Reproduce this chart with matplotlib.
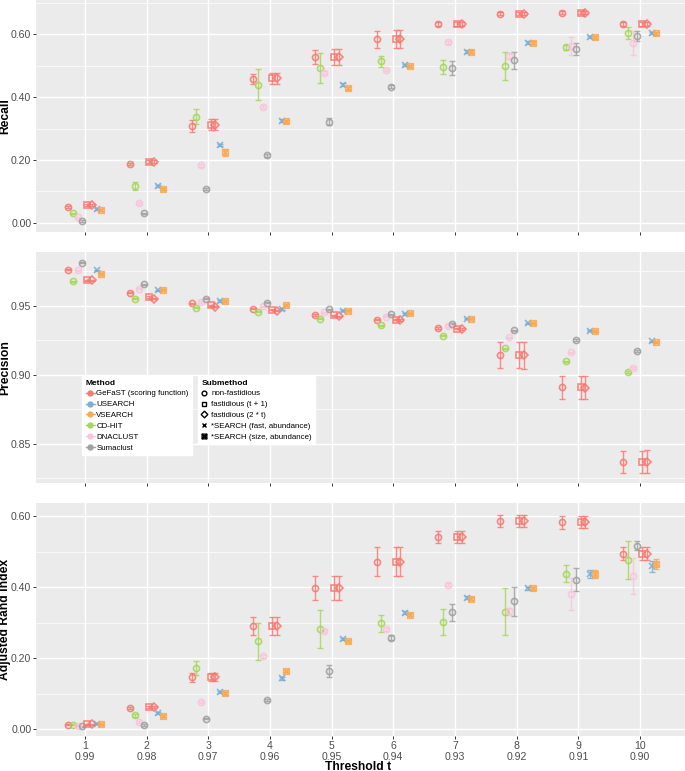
import matplotlib
matplotlib.use('Agg')
import matplotlib.pyplot as plt
import numpy as np
from matplotlib.lines import Line2D
from matplotlib.path import Path

plt.rcParams['font.family'] = ['Liberation Sans', 'DejaVu Sans']

# x axis: threshold t and the matching similarity labels
thresholds = [1, 2, 3, 4, 5, 6, 7, 8, 9, 10]
similarities = ['0.99', '0.98', '0.97', '0.96', '0.95', '0.94', '0.93', '0.92', '0.91', '0.90']

methods = ['GeFaST (scoring function)', 'USEARCH', 'VSEARCH', 'CD-HIT', 'DNACLUST', 'Sumaclust']
method_colors = ['#F8766D', '#74ADD8', '#FBA74C', '#A3D653', '#FAC3DA', '#9E9E9E']
submethods = ['non-fastidious', 'fastidious (t + 1)', 'fastidious (2 * t)',
              '*SEARCH (fast, abundance)', '*SEARCH (size, abundance)']

# series drawn per threshold, in dodge order: (method, submethod)
series = [
    ('GeFaST (scoring function)', 'non-fastidious'),
    ('CD-HIT', 'non-fastidious'),
    ('DNACLUST', 'non-fastidious'),
    ('Sumaclust', 'non-fastidious'),
    ('GeFaST (scoring function)', 'fastidious (t + 1)'),
    ('GeFaST (scoring function)', 'fastidious (2 * t)'),
    ('USEARCH', '*SEARCH (fast, abundance)'),
    ('VSEARCH', '*SEARCH (size, abundance)'),
]

# Recall (mean, error) per series, same order as `series`
recall = [
    [0.050, 0.188, 0.308, 0.458, 0.527, 0.584, 0.632, 0.666, 0.669, 0.632],
    [0.030, 0.117, 0.338, 0.440, 0.492, 0.514, 0.497, 0.500, 0.558, 0.604],
    [0.018, 0.063, 0.183, 0.370, 0.478, 0.487, 0.574, 0.530, 0.563, 0.572],
    [0.006, 0.031, 0.108, 0.215, 0.322, 0.433, 0.492, 0.517, 0.553, 0.594],
    [0.057, 0.195, 0.312, 0.460, 0.528, 0.584, 0.632, 0.666, 0.669, 0.632],
    [0.057, 0.195, 0.312, 0.460, 0.528, 0.584, 0.632, 0.666, 0.669, 0.632],
    [0.045, 0.117, 0.247, 0.325, 0.440, 0.502, 0.545, 0.573, 0.592, 0.604],
    [0.041, 0.108, 0.224, 0.323, 0.428, 0.499, 0.545, 0.573, 0.590, 0.603],
]
recall_err = [
    [0.003, 0.004, 0.018, 0.015, 0.022, 0.027, 0.006, 0.005, 0.005, 0.006],
    [0.003, 0.013, 0.025, 0.048, 0.048, 0.018, 0.022, 0.045, 0.008, 0.020],
    [0.002, 0.003, 0.004, 0.004, 0.004, 0.004, 0.004, 0.010, 0.028, 0.037],
    [0.002, 0.002, 0.003, 0.004, 0.012, 0.005, 0.022, 0.028, 0.018, 0.016],
    [0.003, 0.004, 0.018, 0.017, 0.025, 0.028, 0.006, 0.005, 0.005, 0.006],
    [0.003, 0.004, 0.018, 0.017, 0.025, 0.028, 0.006, 0.005, 0.005, 0.006],
    [0.003, 0.004, 0.004, 0.004, 0.004, 0.004, 0.004, 0.004, 0.004, 0.004],
    [0.003, 0.004, 0.012, 0.004, 0.004, 0.004, 0.004, 0.004, 0.004, 0.004],
]

precision = [
    [0.9763, 0.9597, 0.9519, 0.9481, 0.9435, 0.9401, 0.9338, 0.9143, 0.8910, 0.8372],
    [0.9679, 0.9553, 0.9488, 0.9457, 0.9408, 0.9361, 0.9285, 0.9193, 0.9099, 0.9022],
    [0.9760, 0.9626, 0.9529, 0.9498, 0.9454, 0.9422, 0.9355, 0.9273, 0.9164, 0.9051],
    [0.9814, 0.9657, 0.9553, 0.9522, 0.9476, 0.9441, 0.9372, 0.9324, 0.9254, 0.9174],
    [0.9686, 0.9565, 0.9505, 0.9473, 0.9432, 0.9401, 0.9336, 0.9143, 0.8910, 0.8372],
    [0.9686, 0.9553, 0.9495, 0.9466, 0.9425, 0.9396, 0.9334, 0.9141, 0.8908, 0.8372],
    [0.9758, 0.9614, 0.9536, 0.9478, 0.9464, 0.9442, 0.9406, 0.9374, 0.9319, 0.9244],
    [0.9734, 0.9618, 0.9536, 0.9507, 0.9466, 0.9447, 0.9409, 0.9374, 0.9317, 0.9237],
]
precision_err = [
    [0.0005, 0.0005, 0.0005, 0.0005, 0.0005, 0.0006, 0.0006, 0.0093, 0.0082, 0.0080],
    [0.0004, 0.0004, 0.0004, 0.0004, 0.0004, 0.0004, 0.0004, 0.0005, 0.0005, 0.0005],
    [0.0004, 0.0004, 0.0004, 0.0004, 0.0004, 0.0004, 0.0004, 0.0005, 0.0005, 0.0005],
    [0.0004, 0.0004, 0.0004, 0.0004, 0.0004, 0.0004, 0.0004, 0.0005, 0.0005, 0.0005],
    [0.0005, 0.0005, 0.0005, 0.0005, 0.0005, 0.0006, 0.0006, 0.0095, 0.0082, 0.0080],
    [0.0005, 0.0005, 0.0005, 0.0005, 0.0005, 0.0006, 0.0006, 0.0095, 0.0084, 0.0082],
    [0.0004, 0.0004, 0.0004, 0.0004, 0.0004, 0.0004, 0.0004, 0.0004, 0.0004, 0.0004],
    [0.0004, 0.0004, 0.0004, 0.0004, 0.0004, 0.0004, 0.0004, 0.0004, 0.0004, 0.0004],
]

ari = [
    [0.013, 0.060, 0.146, 0.290, 0.397, 0.471, 0.541, 0.587, 0.582, 0.494],
    [0.013, 0.040, 0.172, 0.248, 0.283, 0.298, 0.302, 0.331, 0.438, 0.476],
    [0.010, 0.020, 0.076, 0.205, 0.277, 0.281, 0.407, 0.332, 0.382, 0.432],
    [0.008, 0.012, 0.030, 0.082, 0.164, 0.257, 0.329, 0.360, 0.421, 0.517],
    [0.014, 0.062, 0.147, 0.291, 0.397, 0.471, 0.541, 0.587, 0.582, 0.494],
    [0.014, 0.062, 0.147, 0.291, 0.397, 0.471, 0.541, 0.587, 0.582, 0.494],
    [0.016, 0.045, 0.105, 0.143, 0.255, 0.328, 0.370, 0.397, 0.437, 0.458],
    [0.014, 0.038, 0.101, 0.163, 0.248, 0.322, 0.367, 0.397, 0.437, 0.465],
]
ari_err = [
    [0.002, 0.003, 0.012, 0.025, 0.034, 0.041, 0.016, 0.017, 0.018, 0.019],
    [0.002, 0.004, 0.020, 0.052, 0.053, 0.023, 0.037, 0.066, 0.024, 0.054],
    [0.001, 0.002, 0.003, 0.003, 0.003, 0.005, 0.005, 0.010, 0.045, 0.050],
    [0.001, 0.002, 0.002, 0.002, 0.016, 0.007, 0.023, 0.040, 0.032, 0.012],
    [0.002, 0.003, 0.012, 0.026, 0.034, 0.041, 0.017, 0.017, 0.017, 0.018],
    [0.002, 0.003, 0.012, 0.026, 0.034, 0.041, 0.017, 0.017, 0.017, 0.018],
    [0.002, 0.003, 0.003, 0.003, 0.003, 0.004, 0.004, 0.004, 0.011, 0.015],
    [0.002, 0.003, 0.005, 0.003, 0.003, 0.004, 0.004, 0.004, 0.012, 0.013],
]

# boxed x (ggplot shape 7)
boxed_x = Path(
    [(-1, -1), (1, -1), (1, 1), (-1, 1), (-1, -1), (-1, -1), (1, 1), (-1, 1), (1, -1)],
    [Path.MOVETO, Path.LINETO, Path.LINETO, Path.LINETO, Path.CLOSEPOLY,
     Path.MOVETO, Path.LINETO, Path.MOVETO, Path.LINETO])
submethod_markers = {
    'non-fastidious': 'o',
    'fastidious (t + 1)': 's',
    'fastidious (2 * t)': 'D',
    '*SEARCH (fast, abundance)': 'x',
    '*SEARCH (size, abundance)': boxed_x,
}
marker_sizes = {'o': 4.4, 's': 4.1, 'D': 3.7, 'x': 4.0}
dodge = np.linspace(-0.27, 0.265, len(series))

W, H = 685, 771
fig = plt.figure(figsize=(W / 100, H / 100), dpi=100)


def px_axes(top, bottom, left=36, right=685):
    return fig.add_axes([left / W, 1 - bottom / H, (right - left) / W, (bottom - top) / H])


def style_axes(ax, ylim, major, minor, show_x):
    ax.set_facecolor('#EBEBEB')
    for sp in ax.spines.values():
        sp.set_visible(False)
    ax.set_xlim(0.206, 10.73)
    ax.set_ylim(*ylim)
    ax.set_yticks(major)
    ax.set_yticklabels([f'{v:.2f}' for v in major])
    ax.set_yticks(minor, minor=True)
    ax.set_xticks(thresholds)
    if show_x:
        ax.set_xticklabels([f'{t}\n{s}' for t, s in zip(thresholds, similarities)],
                           linespacing=1.2)
    else:
        ax.set_xticklabels([])
    ax.grid(True, which='major', color='white', lw=1.05, zorder=0)
    ax.grid(True, which='minor', axis='y', color='white', lw=0.5, zorder=0)
    ax.set_axisbelow(True)
    ax.tick_params(which='major', length=2.2, width=0.7, color='#333333',
                   labelsize=7.6, labelcolor='#4D4D4D', pad=1.2)
    ax.tick_params(which='minor', length=0)


def draw(ax, values, errors):
    for i, (method, sub) in enumerate(series):
        color = method_colors[methods.index(method)]
        x = np.array(thresholds) + dodge[i]
        ax.errorbar(x, values[i], yerr=errors[i], fmt='none', ecolor=color, alpha=0.8,
                    elinewidth=1.0, capsize=1.9, capthick=1.0, zorder=2)
        mk = submethod_markers[sub]
        ms = marker_sizes.get(mk, 4.0) if isinstance(mk, str) else 4.0
        ax.plot(x, values[i], ls='none', marker=mk, ms=ms, mfc='none', mec=color,
                mew=1.2, alpha=0.85, zorder=3)


ax_rec = px_axes(0, 232)
style_axes(ax_rec, (-0.029, 0.709), [0.0, 0.2, 0.4, 0.6], [0.1, 0.3, 0.5, 0.7], False)
draw(ax_rec, recall, recall_err)

ax_pre = px_axes(252, 483)
style_axes(ax_pre, (0.8217, 0.9891), [0.85, 0.90, 0.95], [0.825, 0.875, 0.925, 0.975], False)
draw(ax_pre, precision, precision_err)

ax_ari = px_axes(503, 736)
style_axes(ax_ari, (-0.0188, 0.6366), [0.0, 0.2, 0.4, 0.6], [0.1, 0.3, 0.5], True)
draw(ax_ari, ari, ari_err)

for ax, label in [(ax_rec, 'Recall'), (ax_pre, 'Precision'), (ax_ari, 'Adjusted Rand index')]:
    pos = ax.get_position()
    fig.text(5.5 / W, pos.y0 + pos.height / 2, label, rotation=90, ha='center', va='center',
             fontsize=8.7, fontweight='bold')
fig.text(358 / W, 1 - 766.5 / H, 'Threshold t', ha='center', va='center',
         fontsize=8.7, fontweight='bold')

# legends
legend_kw = dict(loc='upper left', bbox_transform=fig.transFigure, fontsize=5.7,
                 title_fontproperties={'weight': 'bold', 'size': 6.0},
                 alignment='left', frameon=True, fancybox=False, framealpha=1,
                 facecolor='white', edgecolor='white', borderpad=0.45,
                 labelspacing=0.42, borderaxespad=0)
method_handles = [Line2D([0], [0], color=c, marker='o', ms=3.6, lw=1.0, alpha=0.9)
                  for c in method_colors]
leg1 = ax_pre.legend(method_handles, methods, title='Method',
                     bbox_to_anchor=(82 / W, 1 - 376 / H),
                     handlelength=1.2, handletextpad=0.15, **legend_kw)
ax_pre.add_artist(leg1)
sub_handles = [Line2D([0], [0], ls='none', marker=submethod_markers[s], ms=3.4,
                      mfc='none', mec='black', mew=1.0) for s in submethods]
ax_pre.legend(sub_handles, submethods, title='Submethod',
              bbox_to_anchor=(198 / W, 1 - 376 / H),
              handlelength=0.7, handletextpad=0.5, **legend_kw)

fig.savefig('out.png', dpi=100, facecolor='white')
